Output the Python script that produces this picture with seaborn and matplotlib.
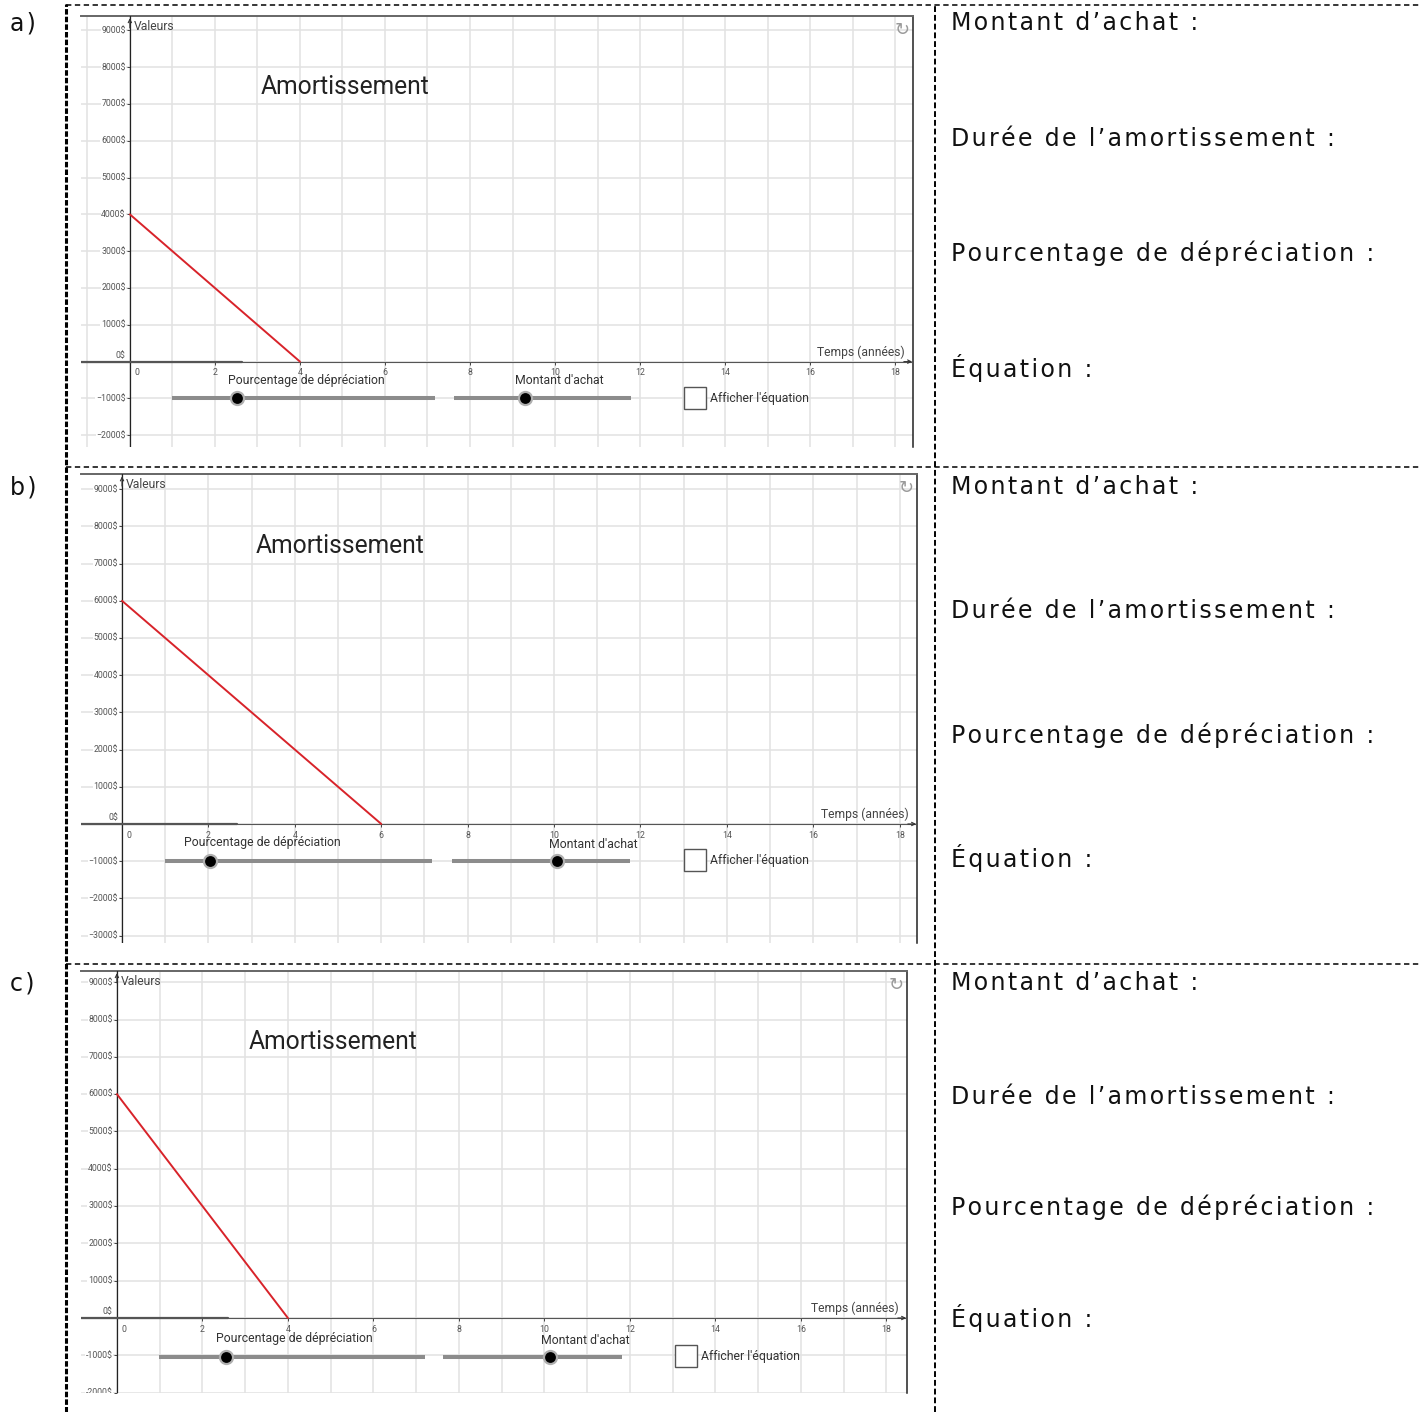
import numpy as np
import pandas as pd
import matplotlib
matplotlib.use('Agg')
import matplotlib.pyplot as plt
from matplotlib.lines import Line2D
import seaborn as sns

sns.set_style('white')
plt.rcParams['font.family'] = ['Roboto', 'DejaVu Sans']

W, H = 1420, 1412

# ---- données ----
etiquettes = ['a)', 'b)', 'c)']
montants = [4000, 6000, 6000]          # valeur au temps 0
durees = [4, 6, 4]                     # années avant d'atteindre 0 $
x_ticks = list(range(0, 19, 2))
y_ticks = [list(range(-2000, 9001, 1000)),
           list(range(-3000, 9001, 1000)),
           list(range(-2000, 9001, 1000))]
signe_moins = ['\u2212', '\u2212', '-']
questions = ['Montant d’achat :', 'Durée de l’amortissement :',
             'Pourcentage de dépréciation :', 'Équation :']

# curseurs (position du point sur la glissière, en unités du graphique)
curseur_pct = [2.52, 2.04, 2.55]
curseur_montant = [9.29, 10.07, 10.13]

# ---- mise en page (pixels) ----
cadres = [(81, 16, 913, 447), (81, 474, 917, 943), (81, 971, 907, 1393)]
xlims = [(-1.15, 18.42), (-0.95, 18.4), (-0.84, 18.48)]
ylims = [(-2320, 9390), (-3200, 9410), (-2010, 9300)]
rail1 = [(0.99, 7.18), (1.0, 7.18), (0.98, 7.2)]
rail2 = [(7.62, 11.79), (7.64, 11.76), (7.63, 11.81)]
rail_y = [-990, -990, -1050]
lab1 = [(4.16, -520), (3.24, -510), (4.16, -560)]
lab2 = [(10.1, -520), (10.9, -560), (10.95, -590)]
case = [(13.29, -990), (13.26, -970), (13.31, -1020)]
titre_pos = [(5.05, 7460), (5.05, 7470), (5.05, 7400)]
axe_cache = [2.64, 2.66, 2.6]
lignes_q = [[22, 137, 253, 369], [486, 609, 734, 858], [982, 1095, 1207, 1319]]
sep_h = [5, 467, 964]


def espace(s):
    return '\u200a'.join(s)


fig = plt.figure(figsize=(W / 100, H / 100), dpi=100)

for i in range(3):
    l, t, r, b = cadres[i]
    ax = fig.add_axes([l / W, 1 - b / H, (r - l) / W, (b - t) / H])
    x0, x1 = xlims[i]
    y0, y1 = ylims[i]
    ax.set_xlim(x0, x1)
    ax.set_ylim(y0, y1)
    ax.set_xticks(np.arange(np.ceil(x0), np.floor(x1) + 1))
    ax.set_yticks(np.arange(np.ceil(y0 / 1000) * 1000, y1, 1000))
    ax.grid(True, color='#e2e2e2', lw=1.1)
    ax.tick_params(length=0, labelbottom=False, labelleft=False)
    ax.spines['left'].set_visible(False)
    ax.spines['bottom'].set_visible(False)
    ax.spines['top'].set_color('#666666')
    ax.spines['top'].set_linewidth(1.4)
    ax.spines['right'].set_color('#222222')
    ax.spines['right'].set_linewidth(1.1)

    # axes
    ax.axhline(0, color='#555555', lw=0.8, zorder=3)
    ax.axvline(0, color='#222222', lw=0.9, zorder=3)
    ax.plot([x0, axe_cache[i]], [0, 0], color='#555555', lw=1.6, zorder=3)
    arrow = dict(arrowstyle='->', color='#333333', lw=0.8, shrinkA=0, shrinkB=0, mutation_scale=6)
    ax.annotate('', xy=(0.999, 0), xycoords=('axes fraction', 'data'),
                xytext=(-6, 0), textcoords='offset points', arrowprops=arrow)
    ax.annotate('', xy=(0, 0.995), xycoords=('data', 'axes fraction'),
                xytext=(0, -7), textcoords='offset points', arrowprops=arrow)
    ax.plot(x_ticks, [0] * len(x_ticks), ls='none', marker=3, ms=2.5, mew=0.7, color='#444444')
    ax.plot([0] * len(y_ticks[i]), y_ticks[i], ls='none', marker=0, ms=2.5, mew=0.7, color='#444444')

    for v in x_ticks:
        ax.annotate(str(v), xy=(v, 0), xytext=(5 if v == 0 else 0, -8),
                    textcoords='offset points', ha='center', va='center',
                    fontsize=6.3, color='#555555')
    for v in y_ticks[i]:
        txt = f'{abs(v)}$' if v >= 0 else signe_moins[i] + f'{abs(v)}$'
        boite = None if v == 0 else dict(fc='white', ec='none', pad=0.5)
        ax.annotate(txt, xy=(0, v), xytext=(-3, 4.5 if v == 0 else 0),
                    textcoords='offset points', ha='right', va='center',
                    fontsize=6.3, color='#555555', clip_on=True, bbox=boite)

    ax.annotate('Valeurs', xy=(0, 1), xycoords=('data', 'axes fraction'),
                xytext=(3, -7.5), textcoords='offset points', ha='left', va='center',
                fontsize=8.7, color='#444444')
    ax.annotate('Temps (années)', xy=(1, 0), xycoords=('axes fraction', 'data'),
                xytext=(-6, 2), textcoords='offset points', ha='right', va='bottom',
                fontsize=8.7, color='#444444')
    ax.annotate('\u21bb', xy=(1, 1), xycoords='axes fraction', xytext=(-7.5, -10),
                textcoords='offset points', ha='center', va='center',
                fontsize=13, color='#9a9a9a', family='DejaVu Sans')

    # droite d'amortissement
    df = pd.DataFrame({'temps': [0, durees[i]], 'valeur': [montants[i], 0]})
    sns.lineplot(data=df, x='temps', y='valeur', ax=ax, color='#d8232a', lw=1.4, zorder=4)
    ax.set_xlabel('')
    ax.set_ylabel('')

    ax.text(titre_pos[i][0], titre_pos[i][1], 'Amortissement', ha='center', va='center',
            fontsize=17.7, color='#222222')

    # curseurs
    for rail, val in ((rail1[i], curseur_pct[i]), (rail2[i], curseur_montant[i])):
        ax.plot(rail, [rail_y[i]] * 2, color='#8c8c8c', lw=2.9, solid_capstyle='butt')
        ax.plot(val, rail_y[i], 'o', ms=11, color='#b0b0b0', mew=0)
        ax.plot(val, rail_y[i], 'o', ms=7.8, color='black', mew=0)
    ax.text(lab1[i][0], lab1[i][1], 'Pourcentage de dépréciation', ha='center', va='center',
            fontsize=8.8, color='#333333')
    ax.text(lab2[i][0], lab2[i][1], "Montant d'achat", ha='center', va='center',
            fontsize=8.8, color='#333333')
    ax.plot(case[i][0], case[i][1], marker='s', ms=15.5, mfc='white', mec='#555555', mew=1)
    ax.annotate("Afficher l'équation", xy=case[i], xytext=(11, 0), textcoords='offset points',
                ha='left', va='center', fontsize=8.8, color='#333333')

    # colonne de gauche et de droite
    fig.text(10 / W, 1 - (lignes_q[i][0] + 8.5) / H, espace(etiquettes[i]), fontsize=17,
             family='DejaVu Sans', va='baseline', color='#111111')
    for q, yq in zip(questions, lignes_q[i]):
        fig.text(951 / W, 1 - (yq + 8.5) / H, espace(q), fontsize=17,
                 family='DejaVu Sans', va='baseline', color='#111111')

# tableau en pointillés
fig.add_artist(Line2D([66 / W, 66 / W], [0, 1 - 4 / H], color='black', lw=2.2,
                      linestyle=(0, (1.8, 0.7))))
fig.add_artist(Line2D([935 / W, 935 / W], [0, 1 - 4 / H], color='black', lw=1.4,
                      linestyle=(0, (3, 1.5))))
for yh in sep_h:
    fig.add_artist(Line2D([66 / W, 1], [1 - yh / H] * 2, color='black', lw=1.1,
                          linestyle=(0, (3.5, 2.3))))

fig.savefig('out.png', dpi=100)
